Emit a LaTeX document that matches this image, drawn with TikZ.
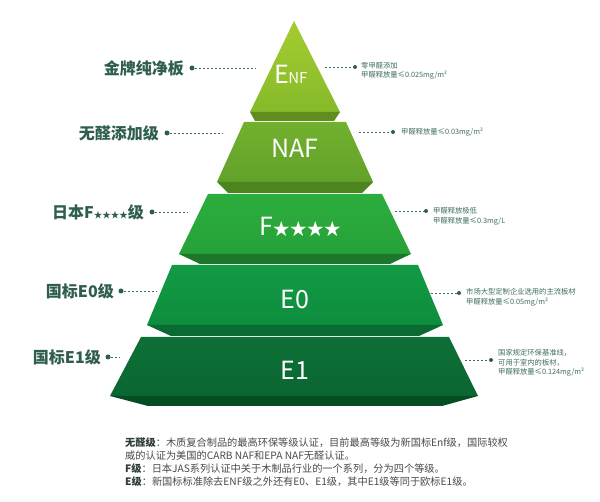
\documentclass[tikz,border=0pt]{standalone}
\usepackage{fontspec}
\setmainfont{Noto Sans CJK SC}
\usetikzlibrary{calc}
\definecolor{labelgreen}{HTML}{2F5E50}
\definecolor{notegreen}{HTML}{3E6E5C}
\definecolor{bodygrey}{HTML}{4A4A4A}
\definecolor{bodydark}{HTML}{2E3B36}
\definecolor{t1a}{HTML}{A5CC30}
\definecolor{t1b}{HTML}{86BA2A}
\definecolor{t1c}{HTML}{5F8E1E}
\definecolor{t2a}{HTML}{72B02E}
\definecolor{t2b}{HTML}{62A22A}
\definecolor{t2c}{HTML}{4C841F}
\definecolor{t3a}{HTML}{2DAD3E}
\definecolor{t3b}{HTML}{26A238}
\definecolor{t3c}{HTML}{1C772B}
\definecolor{t4a}{HTML}{129A44}
\definecolor{t4b}{HTML}{0E8E3E}
\definecolor{t4c}{HTML}{0A6A31}
\definecolor{t5a}{HTML}{0D7036}
\definecolor{t5b}{HTML}{0B6632}
\definecolor{t5c}{HTML}{074D24}
\tikzstyle{tiertext}=[text=white,
                      inner sep=0pt,
                      font=\fontsize{25}{25}\selectfont]
\tikzstyle{gradelabel}=[anchor=east,
                        inner sep=0pt,
                        text=labelgreen,
                        font=\fontsize{16}{16}\selectfont\bfseries]
\tikzstyle{note}=[anchor=west,
                  align=left,
                  inner sep=0pt,
                  text=notegreen,
                  font=\fontsize{7.3}{9.5}\selectfont]
\tikzstyle{dotmark}=[circle,
                     inner sep=0pt,
                     minimum size=5pt,
                     fill=labelgreen]
\tikzstyle{leaderline}=[draw=notegreen,line width=0.8pt,dash pattern=on 2pt off 2pt]

\begin{document}
\begin{tikzpicture}[x=1pt,y=-1pt]
    \useasboundingbox[fill=white] (0,0) rectangle (600,502);
    \path[top color=t1a, bottom color=t1b] (294,21) -- (340,112) -- (250,112) -- cycle;
    \fill[t1c] (250,112) -- (340,112) -- (334,121) -- (255,121) -- cycle;
    \path[top color=t2a, bottom color=t2b] (244,122) -- (346,122) -- (373,182) -- (217,182) -- cycle;
    \fill[t2c] (217,182) -- (373,182) -- (362,193) -- (228,193) -- cycle;
    \path[top color=t3a, bottom color=t3b] (208,194) -- (382,194) -- (411,254) -- (179,254) -- cycle;
    \fill[t3c] (179,254) -- (411,254) -- (390,264) -- (200,264) -- cycle;
    \path[top color=t4a, bottom color=t4b] (172,265) -- (418,265) -- (443,325) -- (147,325) -- cycle;
    \fill[t4c] (147,325) -- (443,325) -- (419,336) -- (171,336) -- cycle;
    \path[top color=t5a, bottom color=t5b] (141,337) -- (449,337) -- (478,396) -- (110,396) -- cycle;
    \fill[t5c] (110,396) -- (478,396) -- (442,406) -- (148,406) -- cycle;

    \node[tiertext] (enf) at (291,74) {E\kern-1pt{\fontsize{15}{15}\selectfont NF}};
    \node[tiertext] (naf) at (295,148) {NAF};
    \node[tiertext] (fstar) at (300,227) {F{\fontsize{17}{17}\selectfont ★★★★}};
    \node[tiertext] (ezero) at (295,300) {E0};
    \node[tiertext] (eone) at (295,370) {E1};

    \node[dotmark] (ldot1) at (192,68) {};
    \node[dotmark] (ldot2) at (167,133) {};
    \node[dotmark] (ldot3) at (152,212) {};
    \node[dotmark] (ldot4) at (121,291) {};
    \node[dotmark] (ldot5) at (108,357) {};
    \coordinate (lend1) at (256,68);
    \coordinate (lend2) at (223,133);
    \coordinate (lend3) at (187,212);
    \coordinate (lend4) at (157,291);
    \coordinate (lend5) at (120,357);
    \node[gradelabel] (gold) at (184,68) {金牌纯净板};
    \node[gradelabel] (nofree) at (159,133) {无醛添加级};
    \node[gradelabel] (japan) at (144,212) {日本F{\fontsize{8.5}{8.5}\selectfont ★★★★}级};
    \node[gradelabel] (gbzero) at (114,291) {国标E0级};
    \node[gradelabel] (gbone) at (101,357) {国标E1级};
    \draw[leaderline] (ldot1) -- (lend1);
    \draw[leaderline] (ldot2) -- (lend2);
    \draw[leaderline] (ldot3) -- (lend3);
    \draw[leaderline] (ldot4) -- (lend4);
    \draw[leaderline] (ldot5) -- (lend5);

    \node[dotmark,minimum size=4pt] (rdot1) at (355,67) {};
    \node[dotmark,minimum size=4pt] (rdot2) at (393,132) {};
    \node[dotmark,minimum size=4pt] (rdot3) at (426,211) {};
    \node[dotmark,minimum size=4pt] (rdot4) at (459,293) {};
    \node[dotmark,minimum size=4pt] (rdot5) at (491,360) {};
    \coordinate (rend1) at (325,67);
    \coordinate (rend2) at (359,132);
    \coordinate (rend3) at (395,211);
    \coordinate (rend4) at (431,293);
    \coordinate (rend5) at (465,360);
    \draw[leaderline] (rend1) -- (rdot1);
    \draw[leaderline] (rend2) -- (rdot2);
    \draw[leaderline] (rend3) -- (rdot3);
    \draw[leaderline] (rend4) -- (rdot4);
    \draw[leaderline] (rend5) -- (rdot5);
    \node[note] (enfnote) at (361,71) {零甲醛添加\\甲醛释放量≤0.025mg/m²};
    \node[note] (nafnote) at (401,132) {甲醛释放量≤0.03mg/m²};
    \node[note] (fnote) at (433,216.5) {甲醛释放极低\\甲醛释放量≤0.3mg/L};
    \node[note] (e0note) at (466,297.5) {市场大型定制企业选用的主流板材\\甲醛释放量≤0.05mg/m²};
    \node[note] (e1note) at (498,363) {国家规定环保基准线，\\可用于室内的板材，\\甲醛释放量≤0.124mg/m²};

    \node[anchor=west, align=left, inner sep=0pt, text=bodygrey,
          font=\fontsize{10.2}{13}\selectfont] (explain) at (125,462)
          {{\bfseries\color{bodydark}无醛级}：木质复合制品的最高环保等级认证，目前最高等级为新国标Enf级，国际较权\\
           威的认证为美国的CARB NAF和EPA NAF无醛认证。\\
           {\bfseries\color{bodydark}F级}：日本JAS系列认证中关于木制品行业的一个系列，分为四个等级。\\
           {\bfseries\color{bodydark}E级}：新国标标准除去ENF级之外还有E0、E1级，其中E1级等同于欧标E1级。};
\end{tikzpicture}
\end{document}
